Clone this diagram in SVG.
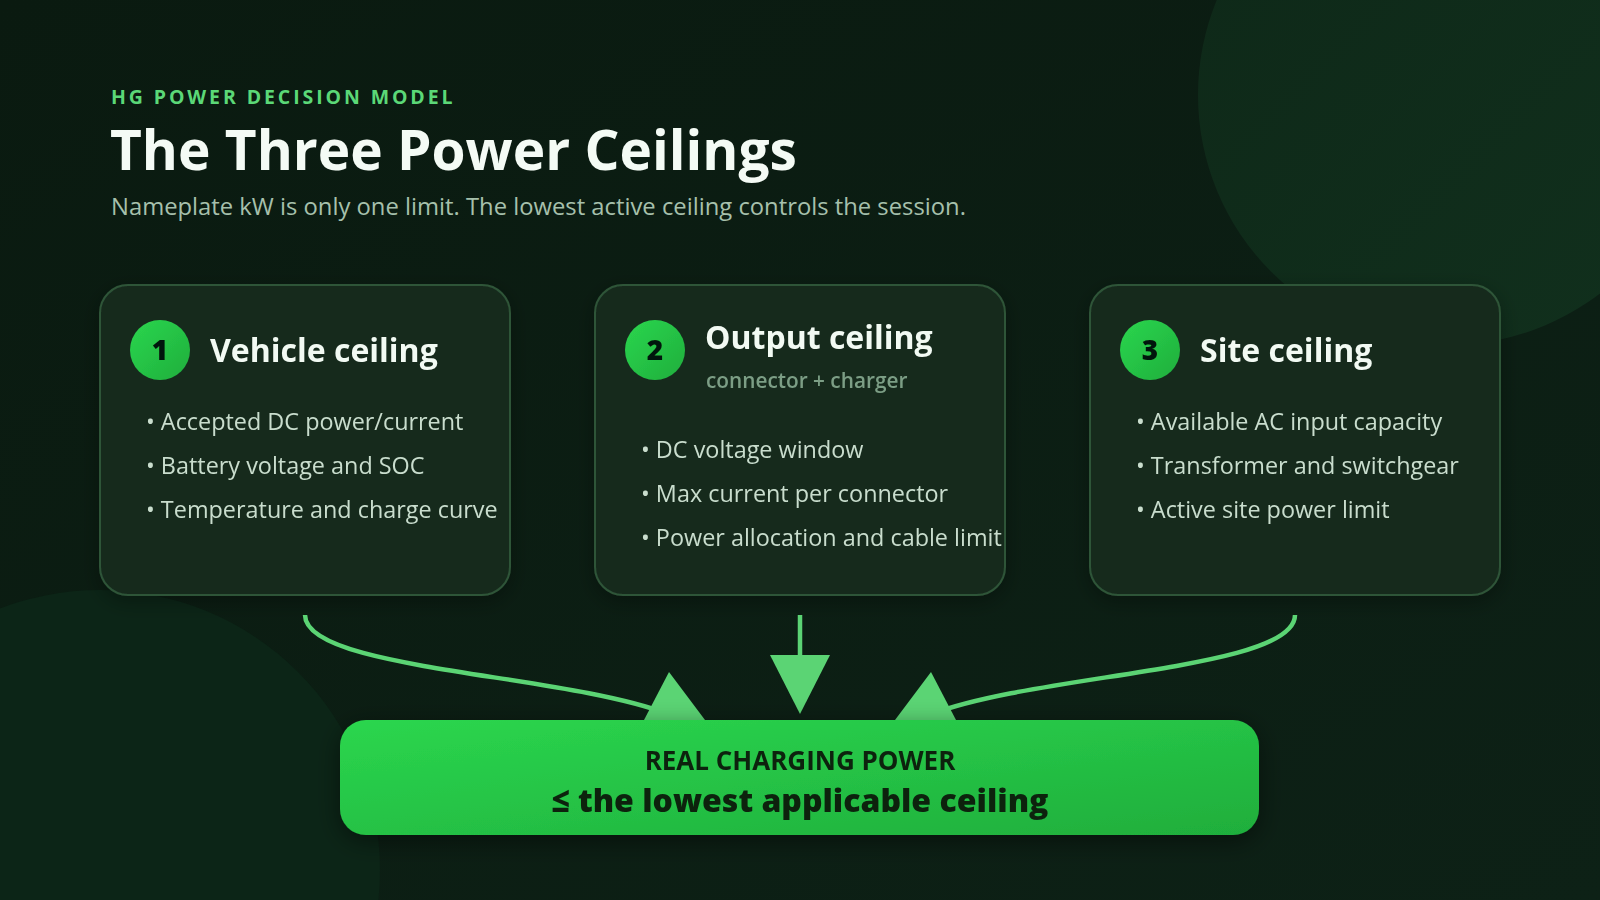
<svg xmlns="http://www.w3.org/2000/svg" width="1600" height="900" viewBox="0 0 1600 900">
  <defs>
    <linearGradient id="bg" x1="0" y1="0" x2="1" y2="1">
      <stop offset="0" stop-color="#0a1a10"/>
      <stop offset="1" stop-color="#0d2116"/>
    </linearGradient>
    <linearGradient id="blob" x1="0" y1="0" x2="1" y2="1">
      <stop offset="0" stop-color="#0e2818"/>
      <stop offset="1" stop-color="#11301d"/>
    </linearGradient>
    <linearGradient id="green" x1="0" y1="0" x2="1" y2="1">
      <stop offset="0" stop-color="#2bd64e"/>
      <stop offset="1" stop-color="#1fae3c"/>
    </linearGradient>
    <filter id="shadow" x="-10%" y="-40%" width="120%" height="180%">
      <feDropShadow dx="0" dy="6" stdDeviation="12" flood-color="#000000" flood-opacity="0.45"/>
    </filter>
    <filter id="cardshadow" x="-10%" y="-10%" width="120%" height="125%">
      <feDropShadow dx="0" dy="6" stdDeviation="10" flood-color="#000000" flood-opacity="0.3"/>
    </filter>
  </defs>
  <style>
    .card { fill: #182c1f; stroke: #2f5438; stroke-width: 2; }
    .badge { fill: url(#green); }
    .num { font-family: "Open Sans", "Noto Sans", "Liberation Sans", sans-serif; font-weight: 800; font-size: 28px; fill: #06180b; text-anchor: middle; }
    .ctitle { font-family: "Open Sans", "Noto Sans", "Liberation Sans", sans-serif; font-weight: 700; font-size: 32px; fill: #f2faf3; }
    .csub { font-family: "Open Sans", "Noto Sans", "Liberation Sans", sans-serif; font-weight: 600; font-size: 20.8px; fill: #7c9e85; }
    .bullet { font-family: "Open Sans", "Noto Sans", "Liberation Sans", sans-serif; font-weight: 400; font-size: 23.4px; fill: #c9ddcd; }
    .conn { fill: none; stroke: #5bd474; stroke-width: 4.5; }
    .head { fill: #5bd474; }
  </style>

  <rect x="0" y="0" width="1600" height="900" fill="url(#bg)"/>
  <circle cx="1448" cy="95" r="250" fill="url(#blob)"/>
  <circle cx="100" cy="870" r="280" fill="#0c2517"/>

  <g id="header">
    <text x="111" y="104" font-family="Open Sans, Noto Sans, Liberation Sans, sans-serif" font-weight="700" font-size="19.5" letter-spacing="2.9" fill="#5bd877">HG POWER DECISION MODEL</text>
    <text x="110" y="170" font-family="Open Sans, Noto Sans, Liberation Sans, sans-serif" font-weight="700" font-size="55" fill="#f4fbf5">The Three Power Ceilings</text>
    <text x="111" y="215" font-family="Open Sans, Noto Sans, Liberation Sans, sans-serif" font-weight="400" font-size="23.8" fill="#a6c0ac">Nameplate kW is only one limit. The lowest active ceiling controls the session.</text>
  </g>

  <g id="card-vehicle" filter="url(#cardshadow)">
    <rect class="card" x="100" y="285" width="410" height="310" rx="28"/>
    <circle class="badge" cx="160" cy="350" r="30"/>
    <text class="num" x="160" y="360">1</text>
    <text class="ctitle" x="210" y="362">Vehicle ceiling</text>
    <text class="bullet" x="146" y="430">• Accepted DC power/current</text>
    <text class="bullet" x="146" y="474">• Battery voltage and SOC</text>
    <text class="bullet" x="146" y="518">• Temperature and charge curve</text>
  </g>

  <g id="card-output" filter="url(#cardshadow)">
    <rect class="card" x="595" y="285" width="410" height="310" rx="28"/>
    <circle class="badge" cx="655" cy="350" r="30"/>
    <text class="num" x="655" y="360">2</text>
    <text class="ctitle" x="705" y="349">Output ceiling</text>
    <text class="csub" x="706" y="388">connector + charger</text>
    <text class="bullet" x="641" y="458">• DC voltage window</text>
    <text class="bullet" x="641" y="502">• Max current per connector</text>
    <text class="bullet" x="641" y="546">• Power allocation and cable limit</text>
  </g>

  <g id="card-site" filter="url(#cardshadow)">
    <rect class="card" x="1090" y="285" width="410" height="310" rx="28"/>
    <circle class="badge" cx="1150" cy="350" r="30"/>
    <text class="num" x="1150" y="360">3</text>
    <text class="ctitle" x="1200" y="362">Site ceiling</text>
    <text class="bullet" x="1136" y="430">• Available AC input capacity</text>
    <text class="bullet" x="1136" y="474">• Transformer and switchgear</text>
    <text class="bullet" x="1136" y="518">• Active site power limit</text>
  </g>

  <g id="connectors">
    <path class="conn" d="M305,615 C305,670 560,673 668,714"/>
    <path class="conn" d="M1295,615 C1295,670 1040,673 932,714"/>
    <path class="conn" d="M800,615 L800,660"/>
    <polygon class="head" points="669,672 644,720 705,720"/>
    <polygon class="head" points="931,672 956,720 895,720"/>
    <polygon class="head" points="770,655 830,655 800,714"/>
  </g>

  <g id="result" filter="url(#shadow)">
    <rect x="340" y="720" width="919" height="115" rx="26" fill="url(#green)"/>
    <text x="800" y="770" text-anchor="middle" font-family="Open Sans, Noto Sans, Liberation Sans, sans-serif" font-weight="700" font-size="26" fill="#0a2410">REAL CHARGING POWER</text>
    <text x="800" y="812" text-anchor="middle" font-family="Open Sans, Noto Sans, Liberation Sans, sans-serif" font-weight="800" font-size="32" fill="#0a2410">≤ the lowest applicable ceiling</text>
  </g>
</svg>
